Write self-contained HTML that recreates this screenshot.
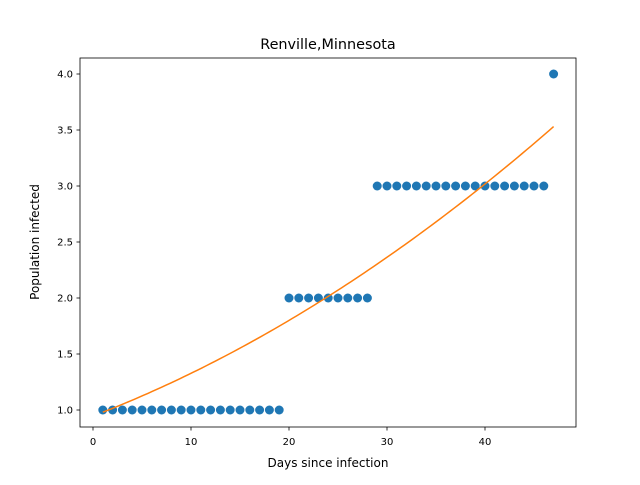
<!DOCTYPE html>
<html><head><meta charset="utf-8"><style>
body{margin:0;background:#fff;}
text{font-family:"DejaVu Sans","Liberation Sans",sans-serif;fill:#000;}
</style></head><body>
<svg id="chart" width="640" height="480" xmlns="http://www.w3.org/2000/svg">
<rect width="640" height="480" fill="#fff"/>
<text x="328" y="49" font-size="14.4" text-anchor="middle">Renville,Minnesota</text>
<text x="328" y="467" font-size="12" text-anchor="middle">Days since infection</text>
<text transform="translate(39,242) rotate(-90)" font-size="12" text-anchor="middle">Population infected</text>
<g id="marks"></g>
<rect x="80" y="58" width="496" height="369" fill="none" stroke="#000" stroke-width="0.8"/>
</svg>
<script>
const days = [1,2,3,4,5,6,7,8,9,10,11,12,13,14,15,16,17,18,19,20,21,22,23,24,25,26,27,28,29,30,31,32,33,34,35,36,37,38,39,40,41,42,43,44,45,46,47];
const infected = [1,1,1,1,1,1,1,1,1,1,1,1,1,1,1,1,1,1,1,2,2,2,2,2,2,2,2,2,3,3,3,3,3,3,3,3,3,3,3,3,3,3,3,3,3,3,4];
const fitCoefficients = [0.946, 0.0336, 0.000455];
const xTicks = [0,10,20,30,40];
const yTicks = [1.0,1.5,2.0,2.5,3.0,3.5,4.0];
const xs = v => 93 + v*9.8;
const ys = v => 410 - (v-1)*112;
const NS = "http://www.w3.org/2000/svg";
const svg = document.getElementById('chart');
const g = document.getElementById('marks');
function mk(tag, attrs, parent){const e=document.createElementNS(NS,tag);for(const k in attrs)e.setAttribute(k,attrs[k]);(parent||g).appendChild(e);return e;}
xTicks.forEach(t=>{
  const l=mk('line',{x1:xs(t),x2:xs(t),y1:427,y2:430.5,stroke:'#000','stroke-width':0.8});
  
  
  const tx=mk('text',{x:xs(t),y:445,'font-size':10,'text-anchor':'middle'});
  tx.textContent=t;
  
  
});
yTicks.forEach(t=>{
  const l=mk('line',{x1:76.5,x2:80,y1:ys(t),y2:ys(t),stroke:'#000','stroke-width':0.8});
  
  
  const tx=mk('text',{x:73,y:ys(t)+3.5,'font-size':10,'text-anchor':'end'});
  tx.textContent=t.toFixed(1);
  
  
});
days.forEach((d,i)=>{
  const c=mk('circle',{cx:xs(d),cy:ys(infected[i]),r:4.5,fill:'#1f77b4'});
  
  
});
let pts=[];
for(let i=0;i<=100;i++){const x=days[0]+(days[days.length-1]-days[0])*i/100;const y=fitCoefficients[0]+fitCoefficients[1]*x+fitCoefficients[2]*x*x;pts.push(xs(x)+','+ys(y));}
const p=mk('polyline',{points:pts.join(' '),fill:'none',stroke:'#ff7f0e','stroke-width':1.5});


</script>
</body></html>
